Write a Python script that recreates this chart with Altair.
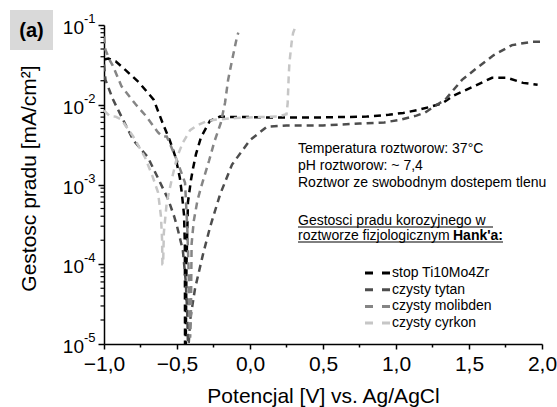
import altair as alt
import pandas as pd

FONT = "Liberation Sans"

SERIES = ["stop Ti10Mo4Zr", "czysty tytan", "czysty molibden", "czysty cyrkon"]
COLORS = ["#000000", "#4d4d4d", "#858585", "#c6c6c6"]

# --- stop Ti10Mo4Zr (black)
alloy_v = [-1.0, -0.97, -0.92, -0.85, -0.76, -0.66, -0.6, -0.55, -0.51, -0.48, -0.466, -0.452, -0.446, -0.445,
           -0.44, -0.435, -0.425, -0.404, -0.39, -0.37, -0.336, -0.274, -0.205, -0.1, 0.0, 0.2, 0.4, 0.6, 0.8,
           0.95, 1.05, 1.15, 1.233, 1.32, 1.39, 1.527, 1.658, 1.76, 1.87, 1.97]
alloy_j = [0.037, 0.038, 0.035, 0.027, 0.019, 0.0116, 0.006, 0.0036, 0.0022, 0.0012, 7.5e-4, 4.2e-4, 1.7e-4, 1e-5,
           1e-5, 1e-4, 6e-4, 1.15e-3, 1.6e-3, 2.4e-3, 3.9e-3, 6.3e-3, 7.1e-3, 7.0e-3, 7.0e-3, 6.9e-3, 6.9e-3, 7.0e-3, 7.1e-3,
           7.5e-3, 7.9e-3, 8.6e-3, 9.4e-3, 0.0105, 0.0129, 0.0168, 0.0218, 0.0218, 0.0188, 0.0178]

# --- czysty tytan (dark grey)
ti_v = [-1.0, -0.99, -0.938, -0.87, -0.80, -0.70, -0.63, -0.56, -0.52, -0.5, -0.46, -0.44, -0.43, -0.425,
        -0.42, -0.41, -0.377, -0.322, -0.274, -0.205, -0.123, 0.0, 0.116, 0.25, 0.5, 0.75, 0.92, 1.03, 1.14,
        1.2, 1.28, 1.336, 1.452, 1.555, 1.67, 1.795, 1.93, 2.0]
ti_j = [0.032, 0.0205, 0.0116, 0.0065, 0.0036, 0.0022, 0.0012, 6.5e-4, 4e-4, 3e-4, 1.5e-4, 6e-5, 2.5e-5, 1e-5,
        1e-5, 2e-5, 4.9e-5, 1.33e-4, 2.9e-4, 7.5e-4, 1.78e-3, 3.6e-3, 5.3e-3, 5.5e-3, 5.5e-3, 5.8e-3, 6.0e-3, 6.5e-3, 7.3e-3,
        8.0e-3, 0.01, 0.0115, 0.0205, 0.029, 0.042, 0.056, 0.0615, 0.0615]

# --- czysty molibden (medium grey)
mo_v = [-1.0, -0.99, -0.96, -0.94, -0.88, -0.785, -0.72, -0.68, -0.63, -0.6, -0.57, -0.5, -0.445, -0.43, -0.42,
        -0.415, -0.41, -0.405, -0.4, -0.385, -0.36, -0.335, -0.28, -0.245, -0.2, -0.171, -0.15, -0.123, -0.089, -0.08]
mo_j = [0.072, 0.049, 0.036, 0.031, 0.017, 0.0102, 0.0075, 0.006, 0.0045, 0.004, 0.004, 0.002, 0.00105, 3e-4, 8e-5,
        2e-5, 1.2e-5, 2e-5, 1.8e-4, 3.5e-4, 6.3e-4, 9.3e-4, 2e-3, 3.4e-3, 5.9e-3, 0.0106, 0.0205, 0.036, 0.071, 0.08]

# --- czysty cyrkon (light grey)
zr_v = [-1.0, -0.96, -0.92, -0.88, -0.8, -0.72, -0.67, -0.63, -0.61, -0.602, -0.6,
        -0.595, -0.59, -0.57, -0.534, -0.5, -0.46, -0.41, -0.363, -0.3, -0.24, -0.1, 0.05, 0.185, 0.25,
        0.258, 0.265, 0.27, 0.285, 0.295, 0.308]
zr_j = [0.0085, 0.0072, 0.0071, 0.0065, 0.004, 0.0022, 0.0013, 8e-4, 4e-4, 2e-4, 1e-4,
        1e-4, 2.5e-4, 6e-4, 1.2e-3, 2.2e-3, 3.35e-3, 4.8e-3, 5.5e-3, 6.2e-3, 6.5e-3, 6.8e-3, 7.0e-3, 7.1e-3, 7.6e-3,
        0.0105, 0.0224, 0.0335, 0.06, 0.079, 0.092]

x_ticks = [-1.0, -0.5, 0.0, 0.5, 1.0, 1.5, 2.0]
x_minor = [-0.75, -0.25, 0.25, 0.75, 1.25, 1.75]
y_ticks = [1e-1, 1e-2, 1e-3, 1e-4, 1e-5]
y_exp = ["-1", "-2", "-3", "-4", "-5"]
y_minor = [m * 10.0 ** k for k in range(-5, -1) for m in range(2, 10)]

info_lines = ["Temperatura roztworow: 37°C", "pH roztworow: ~ 7,4", "Roztwor ze swobodnym dostepem tlenu"]
head_line1 = "Gestosci pradu korozyjnego w "
head_line2 = "roztworze fizjologicznym "
head_bold = "Hank'a:"

rows = []
for name, vs, js in [(SERIES[0], alloy_v, alloy_j), (SERIES[1], ti_v, ti_j),
                     (SERIES[2], mo_v, mo_j), (SERIES[3], zr_v, zr_j)]:
    for i, (v, j) in enumerate(zip(vs, js)):
        rows.append({"series": name, "i": i, "v": v, "j": j})
df = pd.DataFrame(rows)

xs = alt.Scale(domain=[-1.0, 2.0], nice=False, zero=False, padding=0)
ys = alt.Scale(type="log", domain=[1e-5, 1e-1], nice=False, padding=0)
cs = alt.Scale(domain=SERIES, range=COLORS)

lines = alt.Chart(df).mark_line(strokeDash=[7, 5], strokeWidth=2.5, clip=True).encode(
    x=alt.X("v:Q", scale=xs, axis=alt.Axis(
        values=x_ticks, labelExpr="replace(format(datum.value, '.1f'), '.', ',')",
        labelFlush=False, labelOverlap=False,
        title="Potencjal [V] vs. Ag/AgCl", titleY=58, titleBaseline="alphabetic",
        labelPadding=4, tickSize=5)),
    y=alt.Y("j:Q", scale=ys, axis=alt.Axis(
        values=y_ticks, labels=False, tickSize=6,
        title="Gestosc pradu [mA/cm²]", titleX=-69, titleY=153, titleAngle=270,
        titleBaseline="alphabetic", titleAlign="center")),
    color=alt.Color("series:N", scale=cs, sort=SERIES, legend=None),
    order="i:Q",
)

xminor = alt.Chart(pd.DataFrame({"v": x_minor})).mark_rule(color="black", strokeWidth=1.5).encode(
    x=alt.X("v:Q", scale=xs), y=alt.value(319), y2=alt.value(322.5))
yminor = alt.Chart(pd.DataFrame({"j": y_minor})).mark_rule(color="black", strokeWidth=1.2).encode(
    y=alt.Y("j:Q", scale=ys), x=alt.value(-3.5), x2=alt.value(0))

ylab_df = pd.DataFrame({"j": y_ticks, "e": y_exp})
ylab10 = alt.Chart(ylab_df).mark_text(align="right", baseline="middle", fontSize=19, font=FONT,
                                       color="black", dy=3).encode(
    y=alt.Y("j:Q", scale=ys), x=alt.value(-20), text=alt.value("10"))
ylabexp = alt.Chart(ylab_df).mark_text(align="left", baseline="middle", fontSize=13, font=FONT,
                                        color="black", dy=-6).encode(
    y=alt.Y("j:Q", scale=ys), x=alt.value(-20), text="e:N")

layers = [lines, xminor, yminor, ylab10, ylabexp]

one = pd.DataFrame({"k": [0]})
# (a) label box
layers.append(alt.Chart(one).mark_rect(color="#d9d9d9").encode(
    x=alt.value(-94), x2=alt.value(-51), y=alt.value(-15), y2=alt.value(25)))
layers.append(alt.Chart(one).mark_text(fontSize=20, fontWeight="bold", font=FONT, color="black",
                                       align="center", baseline="middle").encode(
    x=alt.value(-72.5), y=alt.value(6), text=alt.value("(a)")))

for t, yy in zip(info_lines, [128, 145, 162]):
    layers.append(alt.Chart(one).mark_text(fontSize=14, font=FONT, color="black", align="left",
                                           baseline="alphabetic").encode(
        x=alt.value(194), y=alt.value(yy), text=alt.value(t)))

layers.append(alt.Chart(one).mark_text(fontSize=14, font=FONT, color="black", align="left",
                                       baseline="alphabetic").encode(
    x=alt.value(194), y=alt.value(200), text=alt.value(head_line1)))
layers.append(alt.Chart(one).mark_text(fontSize=14, font=FONT, color="black", align="left",
                                       baseline="alphabetic").encode(
    x=alt.value(194), y=alt.value(215), text=alt.value(head_line2)))
layers.append(alt.Chart(one).mark_text(fontSize=14, font=FONT, color="black", align="left",
                                       fontWeight="bold", baseline="alphabetic").encode(
    x=alt.value(349), y=alt.value(215), text=alt.value(head_bold)))
layers.append(alt.Chart(one).mark_rule(color="black", strokeWidth=1).encode(
    x=alt.value(194), x2=alt.value(389), y=alt.value(202)))
layers.append(alt.Chart(one).mark_rule(color="black", strokeWidth=1).encode(
    x=alt.value(194), x2=alt.value(399), y=alt.value(217)))

# manual legend
for k, (name, col) in enumerate(zip(SERIES, COLORS)):
    yy = 248 + k * 16.7
    layers.append(alt.Chart(one).mark_rule(color=col, strokeWidth=3, strokeDash=[8, 9]).encode(
        x=alt.value(261), x2=alt.value(286), y=alt.value(yy)))
    layers.append(alt.Chart(one).mark_text(fontSize=14, font=FONT, color="black", align="left",
                                           baseline="middle").encode(
        x=alt.value(288), y=alt.value(yy), text=alt.value(name)))

chart = alt.layer(*layers).properties(
    width=438, height=319,
    background="white",
    autosize=alt.AutoSizeParams(type="none"),
    padding={"left": 104, "top": 25, "right": 15, "bottom": 63},
).configure_view(stroke=None).configure_axis(
    grid=False, domainColor="black", domainWidth=1.5, tickColor="black", tickWidth=1.5,
    labelFont=FONT, labelFontSize=21, labelColor="black",
    titleFont=FONT, titleFontSize=21, titleFontWeight="normal", titleColor="black",
)

chart.save("out.html", embed_options={"renderer": "svg", "actions": False})
